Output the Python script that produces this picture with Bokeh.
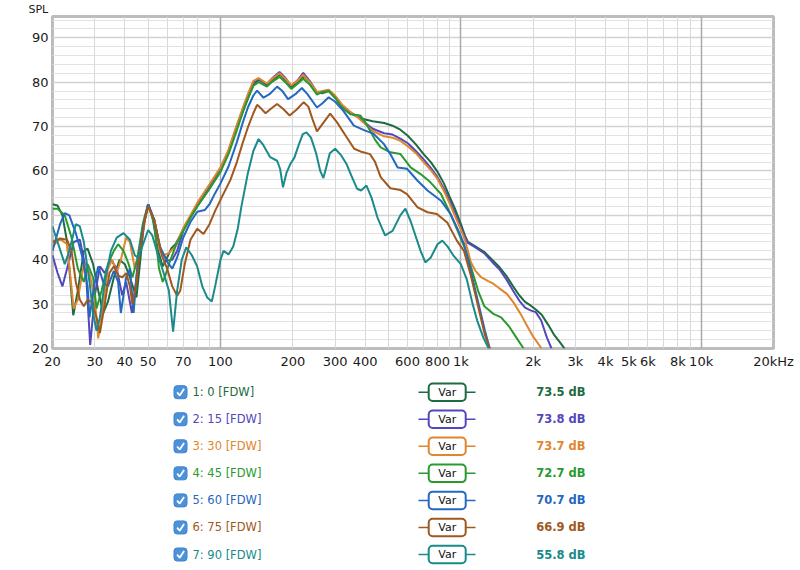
from bokeh.plotting import figure
from bokeh.layouts import column
from bokeh.models import FixedTicker, Grid
from bokeh.core.properties import value
from bokeh.embed import file_html
from bokeh.resources import INLINE

FONT = "DejaVu Sans"

# --- data: (frequency Hz, SPL dB) ---
curve_0 = [(20, 52.5), (21, 52.2), (22, 50), (23, 44), (24.4, 27.5), (25.5, 33), (27, 42), (28, 42.5),
           (29.5, 39), (31, 33), (32.5, 28), (34, 30.5), (36, 36), (38, 40), (40, 39), (42, 36),
           (44.7, 31.5), (46, 38), (48, 48), (50, 52.5), (52, 50), (55, 42), (57.5, 38.5), (60, 40.5),
           (62.5, 42.6), (65, 43.5), (70, 46.8), (75, 49.5), (80, 52), (90, 56), (100, 60), (108, 64.3),
           (117, 69.8), (124, 73.5), (130, 76.3), (137, 79.4), (144, 80.5), (150, 80), (156, 79.3),
           (165, 80.5), (176, 81.8), (186, 80.5), (197, 78.9), (210, 80), (221, 81.5), (235, 80),
           (252, 77.7), (265, 77.5), (282, 78), (300, 76.5), (320, 74.5), (347, 73), (370, 72.3),
           (392, 71.7), (430, 71.2), (480, 70.8), (520, 70.2), (560, 69.3), (600, 68), (650, 66),
           (700, 63.8), (750, 62), (800, 59.8), (850, 57.2), (900, 54.1), (950, 51.2), (1000, 48.1),
           (1040, 45.5), (1070, 44), (1150, 43), (1250, 41.8), (1350, 40), (1450, 38.3), (1550, 36.3),
           (1650, 34), (1750, 32), (1850, 30.5), (1950, 29.7), (2050, 28.8), (2170, 27.6), (2300, 25.5),
           (2450, 23), (2600, 21.2), (2700, 20)]

curve_15 = [(20, 41), (21, 37), (22, 34), (23, 38), (24.5, 44), (26, 44.5), (27.5, 38), (28.7, 20.8),
            (30, 32), (31.5, 38.5), (33, 37), (35, 40), (37, 38), (39, 32), (40.5, 35), (42.8, 28),
            (44.5, 35), (47, 46), (50, 52.5), (53, 49), (56, 42.5), (60, 39.8), (63, 40), (66, 42),
            (70, 46.5), (75, 49.5), (80, 52.5), (90, 56.5), (100, 60.5), (108, 64.5), (117, 70.2),
            (124, 74), (130, 77), (137, 80), (144, 80.8), (150, 80.2), (156, 79.6), (165, 81),
            (176, 82.3), (186, 81), (197, 79.2), (210, 80.5), (221, 82.1), (235, 80.3), (252, 77.7),
            (265, 77.7), (282, 78.2), (300, 76.8), (320, 74.8), (347, 73.2), (370, 72.3), (392, 71.2),
            (430, 69.5), (480, 68.5), (520, 68.2), (560, 67.3), (600, 66.3), (650, 64.5), (700, 62.6),
            (750, 60.7), (800, 58.6), (850, 56), (900, 53.2), (950, 50.2), (1000, 47.3), (1040, 45),
            (1070, 43.8), (1150, 42.8), (1250, 41.5), (1350, 39.5), (1450, 37.8), (1550, 35.5),
            (1650, 33), (1750, 30.8), (1850, 29.2), (1950, 28.6), (2050, 28.2), (2160, 26.3),
            (2280, 22.5), (2385, 20)]

curve_30 = [(20, 43), (21.5, 44.7), (23, 43.5), (24.5, 29), (25.5, 31), (27, 39), (28.5, 37), (30, 31),
            (31, 22.3), (32.5, 30), (34, 38), (35.5, 40), (37, 37), (38.5, 40), (40.5, 45), (42, 44),
            (44, 38), (46, 42), (48, 49), (50, 52.5), (53, 49), (56, 42), (58, 41), (61, 41.5), (65, 43),
            (70, 47.2), (75, 50), (80, 52.8), (90, 57), (100, 60.8), (108, 64.8), (117, 70.4), (124, 74.3),
            (130, 77.3), (137, 80.3), (144, 80.9), (150, 80.3), (156, 79.7), (165, 80.9), (176, 82),
            (186, 80.8), (197, 79.3), (210, 80.4), (221, 81.7), (235, 80), (252, 77.8), (265, 78),
            (282, 78.3), (300, 77), (320, 75), (347, 73.3), (370, 72.2), (392, 71), (430, 69),
            (480, 67.8), (520, 67.5), (560, 66.8), (600, 65.6), (650, 64), (700, 62), (750, 60.2),
            (800, 58.2), (850, 55.5), (900, 52.6), (950, 49.6), (1000, 46.8), (1040, 44.5), (1070, 42),
            (1100, 39.5), (1150, 37.5), (1213, 36.1), (1300, 35.2), (1366, 34.6), (1450, 33.5),
            (1555, 32.3), (1650, 30.5), (1773, 27.8), (1900, 24.8), (2010, 22.5), (2170, 20)]

curve_45 = [(20, 51.5), (21, 51.5), (22.5, 50), (24, 45), (25.5, 38), (27, 35), (28, 39), (29.5, 36),
            (30.5, 29), (32, 33), (34, 39), (36, 42), (37.5, 43.5), (39.5, 42), (41.5, 39), (43, 36),
            (45, 40), (47.5, 48), (50, 52.5), (53, 48), (55.5, 38), (57.5, 35), (59, 36.5), (61, 39),
            (65, 43), (70, 46.5), (75, 49.5), (80, 52), (90, 56), (100, 59.8), (108, 63.8), (117, 69.2),
            (124, 73.3), (130, 76.3), (137, 79.2), (144, 80), (150, 79.5), (156, 79), (165, 80.2),
            (176, 81.2), (186, 80), (197, 78.5), (210, 79.7), (221, 80.8), (235, 79.5), (252, 77.2),
            (265, 77.8), (282, 78), (300, 76.5), (320, 74.3), (347, 72.8), (382, 72.5), (400, 71),
            (419, 69.1), (440, 67), (464, 65.3), (509, 64.2), (561, 63.8), (618, 60.8), (680, 59.3),
            (746, 57.5), (827, 54.8), (906, 50.3), (982, 45.8), (1050, 42), (1100, 38.5), (1180, 33),
            (1253, 29.5), (1366, 27.8), (1471, 27), (1596, 24.8), (1700, 22.5), (1825, 20)]

curve_60 = [(20, 42), (21.5, 48), (22.5, 50.5), (23.5, 50), (25, 46), (26.5, 41), (28, 34), (28.5, 27),
            (30, 35), (31, 38.5), (32.5, 35), (34, 34), (36, 37.5), (37.5, 35), (38.5, 28), (40.5, 36),
            (42, 38), (43.5, 28), (45, 38), (47.5, 47), (50, 52.5), (53, 49), (56, 43), (60, 39.5),
            (63, 38), (66, 40.5), (70, 45), (75, 48.5), (80, 50.8), (86, 51.2), (90, 52.5), (95, 55),
            (100, 57.2), (108, 61), (117, 66.5), (124, 71), (130, 74.3), (137, 77), (142, 78.1),
            (151, 76.5), (160, 77.3), (172, 79), (181, 78), (191, 76.2), (205, 77.3), (218, 78.7),
            (230, 77.3), (252, 74.3), (265, 75.2), (282, 76.6), (300, 75.6), (324, 73.6), (359, 70.2),
            (400, 69.1), (433, 68.4), (478, 66.1), (509, 63.8), (546, 60.8), (597, 60.5), (661, 57.8),
            (727, 55.6), (827, 53.3), (906, 50.3), (963, 47.3), (1030, 43.6), (1100, 37.5),
            (1180, 30.5), (1260, 24), (1320, 20)]

curve_75 = [(20, 44), (21.5, 44.8), (23, 44.5), (24, 42), (25, 35), (26, 31), (27, 29.5), (28, 31),
            (29, 30.5), (30.5, 27), (31.5, 23.5), (33, 30), (34.5, 37), (36, 38.5), (37.5, 36.5),
            (39, 36), (40.5, 37), (42, 34), (43, 30), (44.5, 34), (46, 41), (48.5, 49), (50, 52),
            (53, 49), (57, 41), (60, 38), (63, 34), (66, 31.9), (68, 33), (71, 39), (75, 44.5), (80, 47),
            (85, 45.8), (90, 48), (95, 51), (100, 53.5), (110, 58), (117, 62), (124, 66.5), (130, 69.8),
            (137, 73), (142, 74.9), (148, 74), (154, 73), (162, 74), (172, 75.1), (182, 74), (194, 72.5),
            (207, 73.8), (222, 75.5), (232, 74.5), (242, 71.5), (252, 68.9), (265, 70.5), (286, 72.9),
            (305, 71), (335, 67.6), (360, 65), (382, 64.4), (419, 63.8), (440, 62), (464, 58.6),
            (509, 56.1), (561, 55.7), (597, 54.8), (661, 51.8), (727, 50.7), (795, 50.3), (878, 48.4),
            (963, 44.3), (1030, 42), (1100, 36.5), (1180, 29.5), (1260, 23), (1320, 20)]

curve_90 = [(20, 47.5), (21, 44), (22.5, 39), (23.5, 42), (25, 48), (26, 47.5), (27, 44), (28.5, 35),
            (29.5, 28), (30.5, 24), (31.5, 27), (33, 35), (35, 42), (37, 45), (39.5, 46), (42, 44.5),
            (44, 41), (45.5, 40.5), (48, 44), (50, 46.7), (52, 45.5), (55, 41), (58, 37), (61, 33),
            (63.5, 23.8), (66, 33), (69, 40), (72, 42.8), (76, 41), (80, 38.5), (84, 34), (88, 31.5),
            (92, 30.6), (95, 34), (100, 40), (103, 42), (108, 41.2), (113, 43), (118, 47), (122, 51.8),
            (130, 59.5), (137, 64.5), (144, 67.2), (150, 66), (161, 63.1), (172, 62.3), (177, 60.5),
            (182, 56.3), (188, 59.5), (195, 61.5), (203, 63), (212, 66), (220, 68.3), (228, 68.7),
            (238, 67.5), (250, 64), (260, 60), (268, 58.4), (276, 61), (285, 64), (300, 65), (318, 63.5),
            (335, 61.5), (350, 59), (370, 56), (385, 55.6), (405, 56.7), (425, 54), (450, 49.5),
            (484, 45.5), (520, 46.5), (560, 50), (588, 51.5), (620, 48.5), (680, 42), (712, 39.4),
            (750, 40.5), (800, 43.5), (837, 44.3), (880, 43), (930, 41), (1000, 39), (1060, 35.5),
            (1120, 30), (1170, 26.3), (1240, 22.5), (1306, 20)]

curves = [curve_0, curve_15, curve_30, curve_45, curve_60, curve_75, curve_90]
labels = ["1: 0 [FDW]", "2: 15 [FDW]", "3: 30 [FDW]", "4: 45 [FDW]",
          "5: 60 [FDW]", "6: 75 [FDW]", "7: 90 [FDW]"]
levels = ["73.5 dB", "73.8 dB", "73.7 dB", "72.7 dB", "70.7 dB", "66.9 dB", "55.8 dB"]
colors = ["#1d6b40", "#5248bb", "#e0862e", "#2a9a30", "#2468c0", "#a0581e", "#1a8a8a"]

x_ticks = [20, 30, 40, 50, 70, 100, 200, 300, 400, 600, 800, 1000,
           2000, 3000, 4000, 5000, 6000, 8000, 10000, 20000]
x_tick_labels = ["20", "30", "40", "50", "70", "100", "200", "300", "400", "600", "800", "1k",
                 "2k", "3k", "4k", "5k", "6k", "8k", "10k", "20kHz"]
y_ticks = [20, 30, 40, 50, 60, 70, 80, 90]

LEFT, RIGHT = 52, 27

# --- response plot ---
p = figure(width=800, height=373, x_axis_type="log",
           x_range=(20, 20000), y_range=(20, 94.8),
           output_backend="svg", toolbar_location=None,
           min_border_left=LEFT, min_border_right=RIGHT,
           min_border_top=16, min_border_bottom=25)
p.background_fill_color = "white"
p.border_fill_color = "white"
p.outline_line_color = "#bcbcbc"
p.outline_line_width = 3

p.title.text = "SPL"
p.title.align = "left"
p.title.offset = -24
p.title.standoff = 1
p.title.text_font = FONT
p.title.text_font_size = "11px"
p.title.text_font_style = "normal"
p.title.text_color = "#1a1a1a"

minor_x = [m * d for d in (10, 100, 1000) for m in range(2, 10)] + [20000]
p.xgrid.ticker = FixedTicker(ticks=minor_x)
p.xgrid.grid_line_color = "#d9d9d9"
p.ygrid.ticker = FixedTicker(ticks=list(range(20, 95, 2)))
p.ygrid.grid_line_color = "#e2e2e2"
p.add_layout(Grid(dimension=1, ticker=FixedTicker(ticks=y_ticks),
                  grid_line_color="#d2d2d2", grid_line_width=1.5))
p.add_layout(Grid(dimension=0, ticker=FixedTicker(ticks=[100, 1000, 10000]),
                  grid_line_color="#aaaaaa", grid_line_width=1.5))

p.xaxis.ticker = FixedTicker(ticks=x_ticks)
p.xaxis.major_label_overrides = dict(zip(x_ticks, x_tick_labels))
p.yaxis.ticker = FixedTicker(ticks=y_ticks)
p.axis.axis_line_color = None
p.axis.major_tick_line_color = None
p.axis.minor_tick_line_color = None
p.axis.major_tick_out = 0
p.axis.major_tick_in = 0
p.axis.major_label_text_font = FONT
p.axis.major_label_text_font_size = "13px"
p.axis.major_label_text_color = "#1a1a1a"
p.xaxis.major_label_standoff = 5
p.yaxis.major_label_standoff = 4

for pts, c in zip(curves, colors):
    f = [a for a, b in pts]
    s = [b for a, b in pts]
    p.line(f, s, line_color=c, line_width=2)

# --- legend panel (ranges in page pixels, frame aligned with the plot above) ---
lg = figure(width=800, height=197, x_range=(LEFT, 800 - RIGHT), y_range=(570, 373),
            output_backend="svg", toolbar_location=None,
            min_border_left=LEFT, min_border_right=RIGHT,
            min_border_top=0, min_border_bottom=0,
            x_axis_location=None, y_axis_location=None)
lg.grid.visible = False
lg.outline_line_color = None
lg.background_fill_color = "white"
lg.border_fill_color = "white"

n = len(labels)
row_y = [391.7 + 27.05 * i for i in range(n)]

lg.rect(x=[180] * n, y=row_y, width=13, height=13, fill_color="#4b92da",
        line_color="#3f82cc", line_width=1, border_radius=3)
lg.multi_line(xs=[[176.6, 179.2, 183.6]] * n,
              ys=[[y + 0.2, y + 3.2, y - 3.4] for y in row_y],
              line_color="white", line_width=1.8)
lg.text(x=[192] * n, y=row_y, text=labels, text_color=colors,
        text_font=value(FONT), text_font_size="11.5px", text_baseline="middle")

lg.segment(x0=[418] * n, x1=[475] * n, y0=row_y, y1=row_y,
           line_color=colors, line_width=1.5)
lg.rect(x=[446.7] * n, y=row_y, width=37, height=17.5, fill_color="white",
        line_color=colors, line_width=2, border_radius=4)
lg.text(x=[446.7] * n, y=row_y, text=["Var"] * n, text_color="#111111",
        text_font=value(FONT), text_font_size="11px",
        text_align="center", text_baseline="middle")

lg.text(x=[585] * n, y=row_y, text=levels, text_color=colors,
        text_font=value(FONT), text_font_size="11.5px", text_font_style="bold",
        text_align="right", text_baseline="middle")

layout = column(p, lg)
open("out.html", "w").write(file_html(layout, INLINE))
